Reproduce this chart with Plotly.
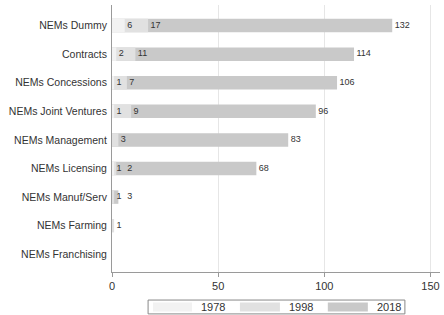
import plotly.graph_objects as go

categories = ["NEMs Dummy", "Contracts", "NEMs Concessions", "NEMs Joint Ventures",
              "NEMs Management", "NEMs Licensing", "NEMs Manuf/Serv", "NEMs Farming",
              "NEMs Franchising"]
v1978 = [6, 2, 1, 1, None, 1, None, None, None]
v1998 = [17, 11, 7, 9, 3, 2, 1, 1, None]
v2018 = [132, 114, 106, 96, 83, 68, 3, None, None]
years = ["1978", "1998", "2018"]
x_ticks = [0, 50, 100, 150]

colors = {"1978": "#f2f2f2", "1998": "#e1e1e1", "2018": "#c9c9c9"}
series = {"1978": v1978, "1998": v1998, "2018": v2018}
FONT = "Liberation Sans, Arial, sans-serif"

fig = go.Figure()
# draw 2018 at the back, 1978 in front
for yr in ["2018", "1998", "1978"]:
    fig.add_trace(go.Bar(
        x=series[yr], y=categories, orientation="h", name=yr,
        marker=dict(color=colors[yr], line=dict(width=0)),
        width=0.47, showlegend=False, hoverinfo="x+name",
    ))

# label positions: at bar end, nudged right if the previous year's label would collide
prev = {"1978": None, "1998": "1978", "2018": "1998"}
for yr in ["2018", "1998", "1978"]:
    xs, ys, ts = [], [], []
    for i, (c, v) in enumerate(zip(categories, series[yr])):
        if v is None:
            continue
        pos = v
        p = prev[yr]
        if p is not None and series[p][i] is not None:
            pos = max(v, series[p][i] + 5)
        xs.append(pos)
        ys.append(c)
        ts.append("\u00a0" + str(v))
    fig.add_trace(go.Scatter(
        x=xs, y=ys, mode="text", text=ts, textposition="middle right",
        textfont=dict(family=FONT, size=9, color="#333333"),
        showlegend=False, hoverinfo="skip",
    ))

fig.update_layout(
    barmode="overlay",
    width=444, height=315,
    margin=dict(l=112, r=4, t=5, b=43, autoexpand=False),
    plot_bgcolor="white", paper_bgcolor="white",
    font=dict(family=FONT, size=10.5, color="#333333"),
    xaxis=dict(range=[0, 154.5], tickvals=x_ticks, ticks="outside", ticklen=4,
               tickcolor="#999999", showgrid=True, gridcolor="#e6e6e6", gridwidth=1,
               showline=True, linecolor="#9a9a9a", linewidth=1, zeroline=False,
               automargin=False, tickfont=dict(size=11, color="#333333"),
               ticklabelstandoff=0),
    yaxis=dict(categoryorder="array", categoryarray=categories,
               range=[8.62, -0.72], showgrid=False, showline=True,
               linecolor="#9a9a9a", linewidth=1, ticks="", zeroline=False,
               automargin=False, tickfont=dict(size=10.5, color="#333333"),
               ticklabelstandoff=2),
)

# custom legend box
lx0, lx1, ly0, ly1 = 0.11, 0.893, -0.157, -0.105
fig.add_shape(type="rect", xref="paper", yref="paper", x0=lx0, x1=lx1, y0=ly0, y1=ly1,
              line=dict(color="#888888", width=1), fillcolor="white")
sw = [(0.125, 0.244), (0.39, 0.512), (0.658, 0.78)]
for (a, b), yr in zip(sw, years):
    fig.add_shape(type="rect", xref="paper", yref="paper", x0=a, x1=b,
                  y0=-0.148, y1=-0.114, line=dict(width=0), fillcolor=colors[yr])
    fig.add_annotation(xref="paper", yref="paper", x=b + 0.022, y=-0.131, text=yr,
                       showarrow=False, xanchor="left", yanchor="middle",
                       font=dict(size=11, color="#333333"))

fig.write_html("out.html", config={"displayModeBar": False},
               post_script="document.body.style.margin='0';")
